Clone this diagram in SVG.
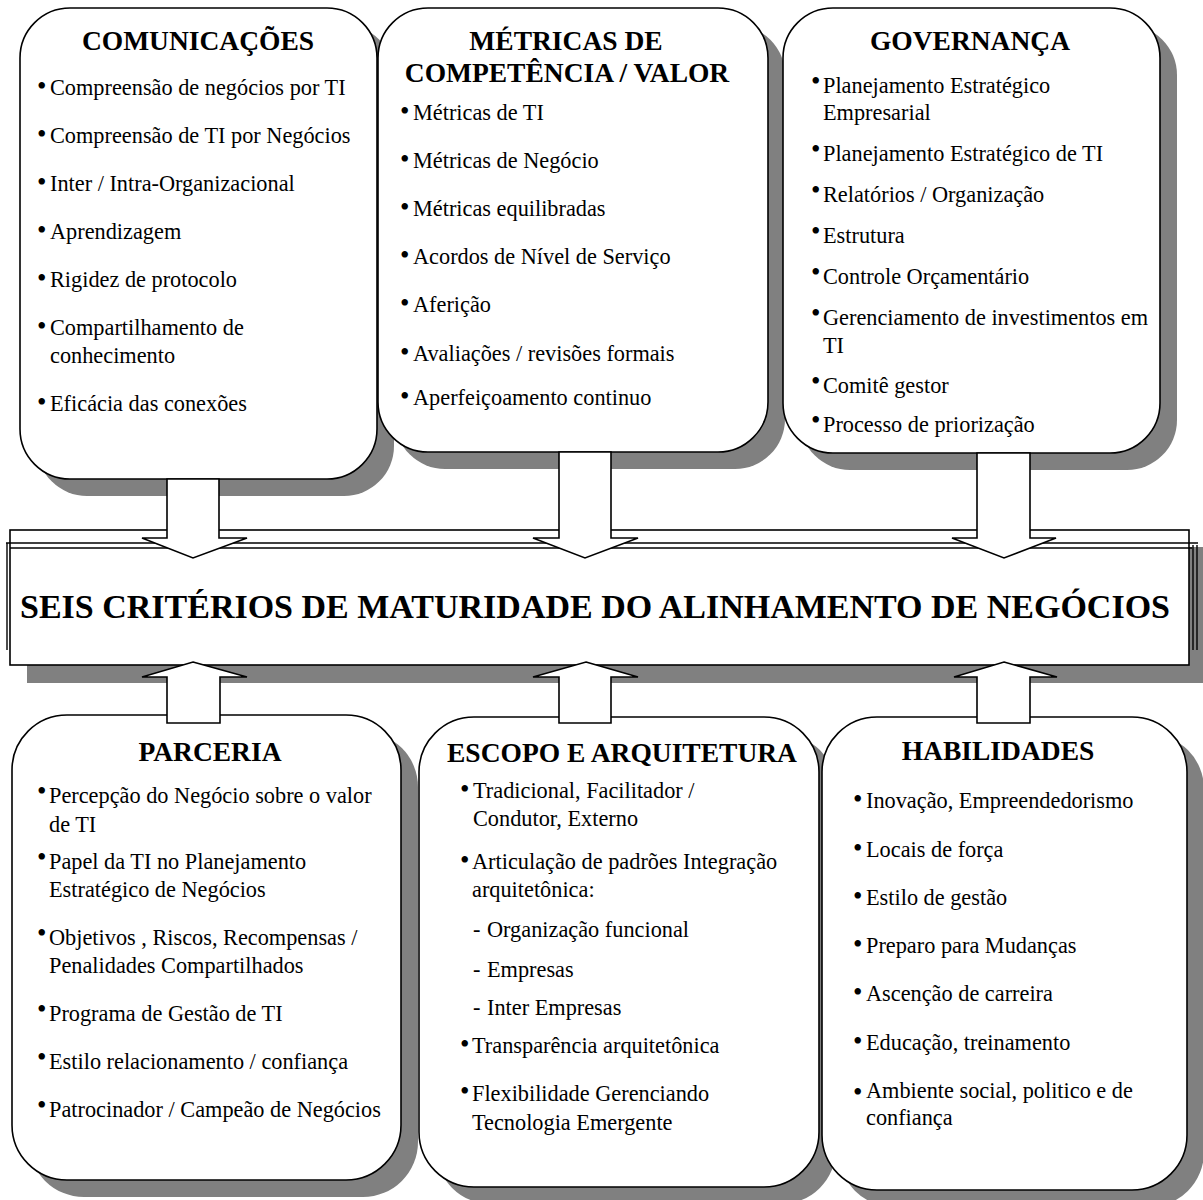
<svg xmlns="http://www.w3.org/2000/svg" width="1203" height="1200" viewBox="0 0 1203 1200">
  <style>
    .shadow { fill: #808080; }
    .box { fill: #ffffff; stroke: #000000; stroke-width: 1.6; }
    .arrow { fill: #ffffff; stroke: #000000; stroke-width: 1.6; stroke-linejoin: miter; }
    .rule { stroke: #000000; stroke-width: 1.4; fill: none; }
    text { font-family: "Liberation Serif", "Times New Roman", serif; fill: #000000; }
    .head { font-size: 27.5px; font-weight: bold; text-anchor: middle; }
    .item { font-size: 22.3px; }
    .bl { font-size: 27px; }
    .bl tspan { font-size: 22.3px; }
    .banner { font-size: 34px; font-weight: bold; text-anchor: middle; }
  </style>

  <!-- drop shadows -->
  <g id="shadows">
    <rect class="shadow" x="37" y="25" width="357" height="471" rx="50" ry="50"/>
    <rect class="shadow" x="395" y="25" width="390" height="444" rx="50" ry="50"/>
    <rect class="shadow" x="800" y="25" width="377" height="445" rx="50" ry="50"/>
    <rect class="shadow" x="29" y="732" width="389" height="465" rx="55" ry="55"/>
    <rect class="shadow" x="436" y="734" width="400" height="470" rx="55" ry="55"/>
    <rect class="shadow" x="839" y="734" width="365" height="473" rx="55" ry="55"/>
    <rect class="shadow" x="27" y="547" width="1176" height="136"/>
  </g>

  <!-- central banner -->
  <g id="banner">
    <rect class="box" x="10" y="530" width="1179" height="135"/>
    <line class="rule" x1="6" y1="543" x2="1198" y2="543"/>
    <line class="rule" x1="10" y1="548" x2="1192" y2="548"/>
    <line class="rule" x1="7" y1="543" x2="7" y2="650"/>
    <line class="rule" x1="1193" y1="545" x2="1193" y2="650"/>
    <line class="rule" x1="1197" y1="545" x2="1197" y2="650"/>
    <text class="banner" x="595" y="618" textLength="1150" lengthAdjust="spacingAndGlyphs">SEIS CRITÉRIOS DE MATURIDADE DO ALINHAMENTO DE NEGÓCIOS</text>
  </g>

  <!-- top row -->
  <g id="comunicacoes">
    <rect class="box" x="20" y="8" width="357" height="471" rx="50" ry="50"/>
    <text class="head" x="198" y="50">COMUNICAÇÕES</text>
    <text class="bl" x="37" y="95">•<tspan x="50">Compreensão de negócios por TI</tspan></text>
    <text class="bl" x="37" y="143">•<tspan x="50">Compreensão de TI por Negócios</tspan></text>
    <text class="bl" x="37" y="191">•<tspan x="50">Inter / Intra-Organizacional</tspan></text>
    <text class="bl" x="37" y="239">•<tspan x="50">Aprendizagem</tspan></text>
    <text class="bl" x="37" y="287">•<tspan x="50">Rigidez de protocolo</tspan></text>
    <text class="bl" x="37" y="335">•<tspan x="50">Compartilhamento de</tspan></text>
    <text class="item" x="50" y="363">conhecimento</text>
    <text class="bl" x="37" y="411">•<tspan x="50">Eficácia das conexões</tspan></text>
  </g>

  <g id="metricas">
    <rect class="box" x="378" y="8" width="390" height="444" rx="50" ry="50"/>
    <text class="head" x="566" y="50">MÉTRICAS DE</text>
    <text class="head" x="567" y="82">COMPETÊNCIA / VALOR</text>
    <text class="bl" x="400" y="120">•<tspan x="413">Métricas de TI</tspan></text>
    <text class="bl" x="400" y="168">•<tspan x="413">Métricas de Negócio</tspan></text>
    <text class="bl" x="400" y="216">•<tspan x="413">Métricas equilibradas</tspan></text>
    <text class="bl" x="400" y="264">•<tspan x="413">Acordos de Nível de Serviço</tspan></text>
    <text class="bl" x="400" y="312">•<tspan x="413">Aferição</tspan></text>
    <text class="bl" x="400" y="361">•<tspan x="413">Avaliações / revisões formais</tspan></text>
    <text class="bl" x="400" y="405">•<tspan x="413">Aperfeiçoamento continuo</tspan></text>
  </g>

  <g id="governanca">
    <rect class="box" x="783" y="8" width="377" height="445" rx="50" ry="50"/>
    <text class="head" x="970" y="50">GOVERNANÇA</text>
    <text class="bl" x="811" y="90">•<tspan x="823" y="93">Planejamento Estratégico</tspan></text>
    <text class="item" x="823" y="120">Empresarial</text>
    <text class="bl" x="811" y="158">•<tspan x="823" y="161">Planejamento Estratégico de TI</tspan></text>
    <text class="bl" x="811" y="199">•<tspan x="823" y="202">Relatórios / Organização</tspan></text>
    <text class="bl" x="811" y="240">•<tspan x="823" y="243">Estrutura</tspan></text>
    <text class="bl" x="811" y="281">•<tspan x="823" y="284">Controle Orçamentário</tspan></text>
    <text class="bl" x="811" y="322">•<tspan x="823" y="325">Gerenciamento de investimentos em</tspan></text>
    <text class="item" x="823" y="353">TI</text>
    <text class="bl" x="811" y="390">•<tspan x="823" y="393">Comitê gestor</tspan></text>
    <text class="bl" x="811" y="429">•<tspan x="823" y="432">Processo de priorização</tspan></text>
  </g>

  <!-- bottom row -->
  <g id="parceria">
    <rect class="box" x="12" y="715" width="389" height="465" rx="55" ry="55"/>
    <text class="head" x="210" y="761">PARCERIA</text>
    <text class="bl" x="37" y="800">•<tspan x="49" y="803">Percepção do Negócio sobre o valor</tspan></text>
    <text class="item" x="49" y="832">de TI</text>
    <text class="bl" x="37" y="866">•<tspan x="49" y="869">Papel da TI no Planejamento</tspan></text>
    <text class="item" x="49" y="897">Estratégico de Negócios</text>
    <text class="bl" x="37" y="942">•<tspan x="49" y="945">Objetivos , Riscos, Recompensas /</tspan></text>
    <text class="item" x="49" y="973">Penalidades Compartilhados</text>
    <text class="bl" x="37" y="1018">•<tspan x="49" y="1021">Programa de Gestão de TI</tspan></text>
    <text class="bl" x="37" y="1066">•<tspan x="49" y="1069">Estilo relacionamento / confiança</tspan></text>
    <text class="bl" x="37" y="1114">•<tspan x="49" y="1117">Patrocinador / Campeão de Negócios</tspan></text>
  </g>

  <g id="escopo">
    <rect class="box" x="419" y="717" width="400" height="470" rx="55" ry="55"/>
    <text class="head" x="622" y="762">ESCOPO E ARQUITETURA</text>
    <text class="bl" x="460" y="798">•<tspan x="473">Tradicional, Facilitador /</tspan></text>
    <text class="item" x="473" y="826">Condutor, Externo</text>
    <text class="bl" x="460" y="869">•<tspan x="472">Articulação de padrões Integração</tspan></text>
    <text class="item" x="472" y="897">arquitetônica:</text>
    <text class="item" x="473" y="937">-<tspan x="487">Organização funcional</tspan></text>
    <text class="item" x="473" y="977">-<tspan x="487">Empresas</tspan></text>
    <text class="item" x="473" y="1015">-<tspan x="487">Inter Empresas</tspan></text>
    <text class="bl" x="460" y="1053">•<tspan x="472">Transparência arquitetônica</tspan></text>
    <text class="bl" x="460" y="1100">•<tspan x="472" y="1101">Flexibilidade Gerenciando</tspan></text>
    <text class="item" x="472" y="1130">Tecnologia Emergente</text>
  </g>

  <g id="habilidades">
    <rect class="box" x="822" y="717" width="365" height="473" rx="55" ry="55"/>
    <text class="head" x="998" y="760">HABILIDADES</text>
    <text class="bl" x="853" y="808">•<tspan x="866">Inovação, Empreendedorismo</tspan></text>
    <text class="bl" x="853" y="857">•<tspan x="866">Locais de força</tspan></text>
    <text class="bl" x="853" y="905">•<tspan x="866">Estilo de gestão</tspan></text>
    <text class="bl" x="853" y="953">•<tspan x="866">Preparo para Mudanças</tspan></text>
    <text class="bl" x="853" y="1001">•<tspan x="866">Ascenção de carreira</tspan></text>
    <text class="bl" x="853" y="1050">•<tspan x="866">Educação, treinamento</tspan></text>
    <text class="bl" x="853" y="1101">•<tspan x="866" y="1098">Ambiente social, politico e de</tspan></text>
    <text class="item" x="866" y="1125">confiança</text>
  </g>

  <!-- block arrows into the banner -->
  <g id="connectors">
    <path class="arrow" d="M167,479 L219,479 L219,538 L247,538 L193,558 L142,538 L167,538 Z"/>
    <path class="arrow" d="M559,452 L611,452 L611,538 L638,538 L585,558 L533,538 L559,538 Z"/>
    <path class="arrow" d="M977,453 L1030,453 L1030,538 L1056,538 L1004,558 L952,538 L977,538 Z"/>
    <path class="arrow" d="M193,662 L247,677 L220,677 L220,723 L167,723 L167,677 L142,677 Z"/>
    <path class="arrow" d="M586,662 L638,677 L611,677 L611,723 L559,723 L559,677 L533,677 Z"/>
    <path class="arrow" d="M1004,662 L1057,677 L1030,677 L1030,723 L977,723 L977,677 L954,677 Z"/>
  </g>
</svg>
